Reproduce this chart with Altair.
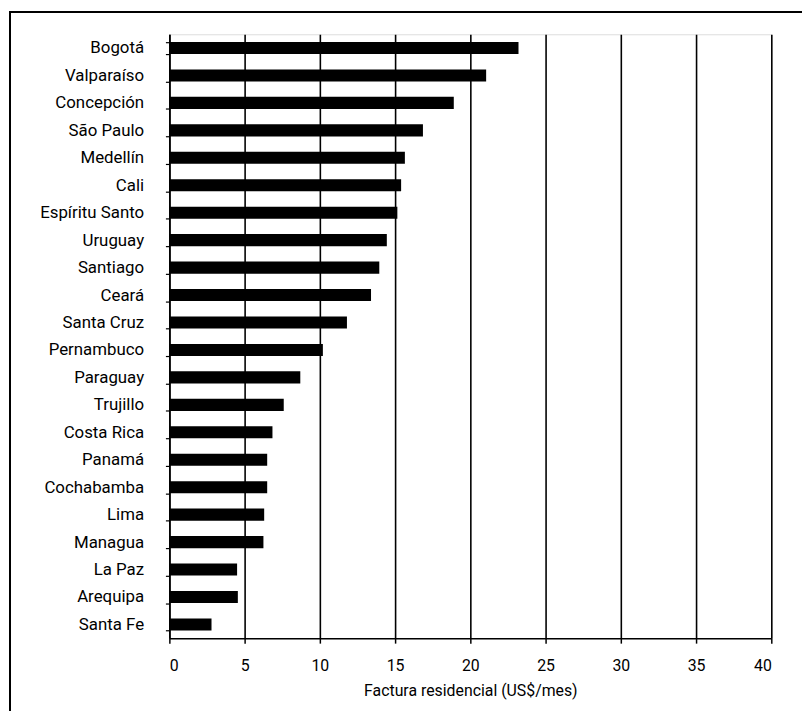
import altair as alt
import pandas as pd

cities = ["Bogotá", "Valparaíso", "Concepción", "São Paulo", "Medellín", "Cali",
          "Espíritu Santo", "Uruguay", "Santiago", "Ceará", "Santa Cruz", "Pernambuco",
          "Paraguay", "Trujillo", "Costa Rica", "Panamá", "Cochabamba", "Lima",
          "Managua", "La Paz", "Arequipa", "Santa Fe"]
values = [23.2, 21.05, 18.9, 16.85, 15.65, 15.4,
          15.15, 14.45, 13.95, 13.4, 11.8, 10.2,
          8.7, 7.6, 6.85, 6.5, 6.5, 6.3,
          6.25, 4.5, 4.55, 2.8]
x_ticks = [0, 5, 10, 15, 20, 25, 30, 35, 40]
x_title = "Factura residencial (US$/mes)"

FONT = "Roboto"

df = pd.DataFrame({"ciudad": cities, "factura": values})

bars = alt.Chart(df).mark_bar(color="black").encode(
    x=alt.X("factura:Q",
            scale=alt.Scale(domain=[0, 40], nice=False),
            axis=alt.Axis(values=x_ticks, title=x_title, grid=True,
                          gridColor="black", gridWidth=1.6, gridOpacity=1,
                          domainColor="black", domainWidth=1.5,
                          tickColor="black", tickSize=5, tickWidth=1.5,
                          labelFont=FONT, labelFontSize=16, labelColor="black",
                          labelPadding=15,
                          titleFont=FONT, titleFontSize=16, titleFontWeight="normal",
                          titleColor="black", titlePadding=9)),
    y=alt.Y("ciudad:N", sort=cities,
            scale=alt.Scale(paddingInner=0.56, paddingOuter=0.28),
            axis=alt.Axis(title=None, grid=False, tickBand="extent",
                          domainColor="black", domainWidth=1.5,
                          tickColor="black", tickSize=4, tickWidth=1.2,
                          labelFont=FONT, labelFontSize=17, labelColor="black",
                          labelPadding=22)),
)

frame_left = alt.Chart(df).mark_rule(color="black", strokeWidth=1.5).encode(
    x=alt.value(-161), y=alt.value(-23), y2=alt.value(700))
frame_top = alt.Chart(df).mark_rule(color="black", strokeWidth=1.5).encode(
    x=alt.value(-161), x2=alt.value(640), y=alt.value(-22.5))

chart = alt.layer(bars, frame_left, frame_top).properties(
    width=608, height=610,
    autosize=alt.AutoSizeParams(type="none"),
    padding={"left": 163, "top": 23, "right": 31, "bottom": 70},
).configure_view(stroke="#444", strokeWidth=1).configure(background="white")

chart.save("out.html", embed_options={"renderer": "svg", "actions": False})
